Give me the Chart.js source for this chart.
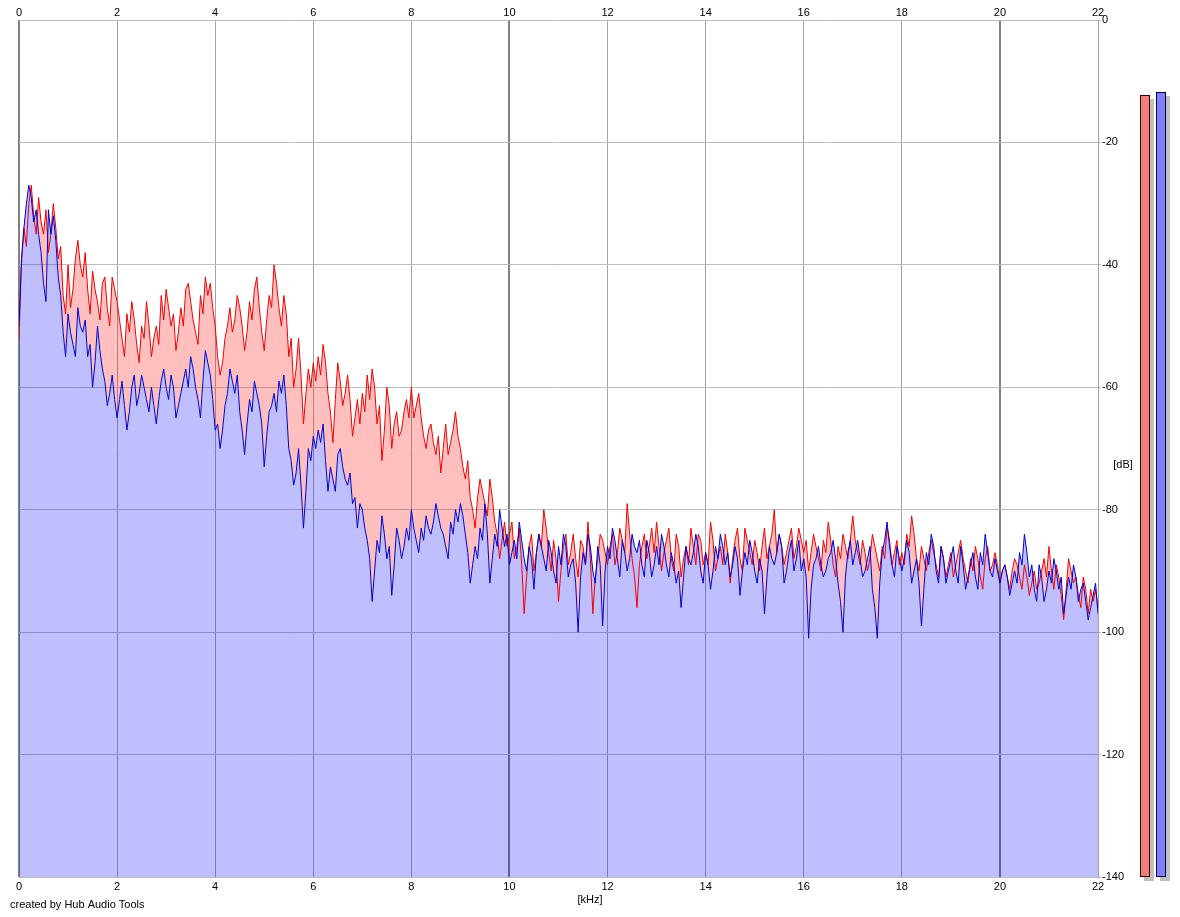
<!DOCTYPE html>
<html>
<head>
<meta charset="utf-8">
<title>Spectrum</title>
<script src="https://cdn.jsdelivr.net/npm/chart.js@4.4.1/dist/chart.umd.min.js"></script>
<style>
  body { margin: 0; background: #fff; }
  canvas { display: block; }
</style>
</head>
<body>
<canvas id="chSpectrum" width="1180" height="917"></canvas>
<script>
/* spectrum of two channels, 0 - 22 kHz */

// bin width of the spectrum, kHz
var binWidthKHz = 0.05;

// red channel, dB (one row per kHz, 20 bins each, last value = 22 kHz)
var redDb = [
  -52,-40,-34,-37,-30,-27,-32,-35,-29,-33,-35,-31,-38,-35,-30,-34,-39,-37,-45,-48,
  -40,-47,-44,-39,-36,-40,-42,-38,-44,-48,-41,-44,-46,-49,-43,-42,-47,-50,-42,-44,
  -46,-49,-52,-55,-48,-51,-46,-49,-53,-56,-50,-52,-46,-50,-55,-52,-50,-53,-45,-49,
  -44,-47,-50,-48,-54,-51,-47,-50,-44,-43,-46,-49,-51,-53,-45,-48,-42,-45,-43,-47,
  -50,-55,-58,-56,-52,-50,-47,-51,-49,-45,-47,-50,-54,-51,-46,-49,-44,-42,-47,-51,
  -54,-49,-45,-47,-40,-43,-47,-50,-45,-48,-55,-52,-60,-57,-52,-58,-66,-61,-57,-60,
  -56,-59,-55,-58,-53,-56,-61,-64,-69,-62,-56,-59,-63,-61,-58,-62,-68,-65,-62,-66,
  -61,-64,-58,-62,-57,-60,-66,-63,-72,-67,-60,-63,-70,-66,-64,-68,-67,-64,-62,-65,
  -60,-65,-63,-61,-65,-68,-70,-67,-66,-69,-71,-68,-74,-70,-66,-71,-69,-67,-64,-68,
  -70,-73,-75,-72,-78,-80,-83,-78,-75,-77,-79,-81,-75,-78,-82,-84,-88,-85,-82,-86,
  -84,-82,-88,-86,-83,-89,-97,-91,-86,-84,-90,-87,-84,-86,-80,-83,-87,-90,-85,-88,
  -95,-90,-86,-84,-89,-87,-84,-88,-91,-85,-86,-89,-82,-88,-97,-91,-88,-84,-85,-87,
  -89,-86,-84,-89,-87,-83,-85,-87,-79,-84,-88,-91,-96,-89,-86,-84,-88,-86,-83,-87,
  -82,-86,-90,-87,-85,-83,-88,-90,-84,-86,-91,-88,-86,-89,-83,-86,-89,-84,-85,-89,
  -87,-89,-82,-85,-90,-88,-86,-89,-84,-87,-92,-88,-85,-83,-88,-90,-83,-85,-87,-89,
  -85,-87,-90,-86,-83,-88,-86,-84,-80,-87,-84,-86,-89,-87,-85,-83,-88,-86,-83,-85,
  -87,-85,-90,-87,-84,-86,-88,-90,-85,-87,-82,-85,-89,-91,-86,-88,-84,-86,-88,-85,
  -81,-85,-87,-89,-85,-87,-90,-88,-84,-86,-88,-90,-86,-88,-83,-85,-89,-87,-85,-89,
  -87,-89,-84,-86,-81,-84,-88,-90,-86,-88,-90,-87,-85,-87,-89,-91,-86,-88,-91,-89,
  -87,-91,-89,-87,-85,-88,-90,-92,-88,-90,-86,-88,-91,-93,-88,-86,-90,-89,-87,-89,
  -92,-90,-89,-91,-93,-90,-88,-89,-91,-93,-89,-91,-94,-92,-90,-93,-92,-90,-88,-91,
  -86,-90,-93,-89,-91,-94,-98,-93,-88,-90,-92,-91,-94,-96,-91,-93,-97,-93,-95,-93,
  -96
];

// blue channel, dB
var blueDb = [
  -50,-39,-34,-30,-27,-29,-33,-31,-35,-38,-43,-46,-31,-35,-32,-36,-42,-45,-51,-55,
  -48,-51,-53,-55,-47,-50,-51,-49,-55,-53,-60,-56,-50,-54,-57,-59,-63,-61,-58,-62,
  -65,-62,-59,-63,-67,-64,-60,-58,-63,-61,-58,-60,-62,-64,-60,-63,-66,-62,-59,-57,
  -60,-62,-58,-60,-65,-63,-61,-59,-57,-60,-55,-57,-60,-62,-65,-59,-54,-56,-58,-62,
  -67,-66,-70,-67,-63,-61,-57,-59,-61,-58,-64,-67,-71,-66,-62,-64,-59,-61,-63,-66,
  -73,-68,-64,-63,-61,-64,-59,-61,-58,-63,-70,-72,-76,-74,-70,-76,-83,-77,-70,-72,
  -68,-70,-67,-69,-66,-72,-77,-73,-75,-77,-71,-70,-73,-75,-76,-74,-79,-78,-83,-79,
  -80,-83,-85,-88,-95,-90,-85,-87,-81,-84,-88,-86,-94,-89,-83,-85,-88,-86,-83,-85,
  -80,-83,-85,-87,-83,-85,-81,-83,-84,-82,-79,-81,-83,-84,-86,-88,-82,-84,-80,-82,
  -79,-81,-84,-87,-92,-89,-86,-88,-83,-85,-79,-84,-92,-88,-84,-86,-80,-83,-86,-84,
  -89,-87,-85,-88,-82,-85,-88,-90,-86,-88,-93,-87,-84,-86,-88,-90,-85,-87,-90,-92,
  -86,-89,-84,-86,-91,-89,-88,-92,-100,-91,-87,-89,-84,-86,-90,-92,-86,-89,-99,-90,
  -86,-88,-83,-85,-88,-91,-85,-87,-90,-88,-84,-86,-87,-85,-89,-91,-85,-87,-91,-89,
  -86,-89,-84,-86,-89,-91,-87,-89,-92,-90,-96,-91,-86,-88,-89,-87,-84,-86,-90,-92,
  -87,-89,-93,-90,-86,-88,-84,-86,-89,-87,-91,-89,-86,-88,-94,-90,-87,-89,-85,-87,
  -90,-92,-88,-90,-97,-91,-86,-88,-89,-87,-84,-86,-92,-90,-87,-85,-90,-88,-85,-90,
  -88,-91,-101,-93,-89,-88,-86,-89,-91,-90,-88,-87,-85,-88,-92,-95,-100,-91,-87,-85,
  -89,-87,-85,-88,-91,-90,-88,-86,-93,-96,-101,-92,-87,-85,-82,-86,-89,-91,-86,-88,
  -90,-88,-85,-87,-92,-90,-88,-92,-99,-93,-87,-89,-84,-86,-90,-92,-86,-88,-92,-90,
  -88,-86,-90,-92,-86,-89,-93,-91,-89,-87,-91,-93,-87,-89,-84,-87,-90,-91,-88,-90,
  -92,-90,-89,-91,-94,-92,-90,-92,-87,-89,-84,-87,-91,-89,-93,-95,-89,-91,-95,-93,
  -90,-92,-88,-90,-93,-91,-97,-94,-91,-93,-89,-91,-95,-93,-92,-95,-98,-96,-94,-92,
  -97
];

// level meters on the right (red, blue), dB
var meterDb = [-12.3, -11.8];
var meterColors = ['#f08080', '#8080ff'];
var meterBorders = ['#400000', '#000040'];

// axis ranges
var kHzMin = 0, kHzMax = 22, kHzStep = 2;
var dbMin = -140, dbMax = 0, dbStep = 20;

var font = { family: 'Liberation Sans, Arial, sans-serif', size: 11 };

function toPoints(values) {
  return values.map(function (v, i) {
    return { x: +(i * binWidthKHz).toFixed(2), y: v };
  });
}

// extra texts and the two level meters
var extrasPlugin = {
  id: 'extras',
  afterDraw: function (chart) {
    var ctx = chart.ctx;
    var y = chart.scales.y;
    ctx.save();
    ctx.font = '11px ' + font.family;
    ctx.fillStyle = '#000';
    ctx.textBaseline = 'middle';
    ctx.textAlign = 'center';
    ctx.fillText('[kHz]', 590, 900);
    ctx.fillText('[dB]', 1123, 465);
    ctx.textAlign = 'left';
    ctx.fillText('created by Hub Audio Tools', 10, 905);

    // meters
    var bottom = y.getPixelForValue(dbMin);
    meterDb.forEach(function (v, i) {
      var x = 1140 + i * 16;
      var top = Math.round(y.getPixelForValue(v));
      var h = Math.round(bottom) - top;
      ctx.fillStyle = '#c0c0c0';
      ctx.fillRect(x + 4, top + 4, 10, h);
      ctx.fillStyle = meterColors[i];
      ctx.fillRect(x, top, 10, h);
      ctx.strokeStyle = meterBorders[i];
      ctx.lineWidth = 1;
      ctx.strokeRect(x + 0.5, top + 0.5, 9, h - 1);
    });
    ctx.restore();
  }
};

var chSpectrum = document.getElementById('chSpectrum');
if (chSpectrum) {
  new Chart(chSpectrum, {
    type: 'line',
    data: {
      datasets: [
        {
          label: 'blue',
          data: toPoints(blueDb),
          borderColor: '#0000cc',
          borderWidth: 1,
          backgroundColor: 'rgba(0,0,255,0.25)',
          fill: 'start',
          pointRadius: 0,
          tension: 0
        },
        {
          label: 'red',
          data: toPoints(redDb),
          borderColor: '#f00000',
          borderWidth: 1,
          fill: { target: 0, above: 'rgba(255,0,0,0.25)', below: 'rgba(0,0,0,0)' },
          pointRadius: 0,
          tension: 0
        }
      ]
    },
    options: {
      responsive: false,
      animation: false,
      layout: { padding: { left: 19, right: 0, top: 0, bottom: 0 } },
      plugins: {
        legend: { display: false },
        tooltip: { enabled: false },
        filler: { drawTime: 'beforeDatasetsDraw' }
      },
      scales: {
        x: {
          type: 'linear',
          position: 'bottom',
          min: kHzMin, max: kHzMax,
          ticks: { stepSize: kHzStep, padding: 3, color: '#000', font: font, maxRotation: 0 },
          grid: {
            drawTicks: false,
            color: function (c) { return c.tick && c.tick.value % 10 === 0 ? '#808080' : '#a4a4a4'; },
            lineWidth: function (c) { return c.tick && c.tick.value % 10 === 0 ? 2 : 1; }
          },
          border: { display: false },
          afterFit: function (s) { s.height = 40; }
        },
        x2: {
          type: 'linear',
          position: 'top',
          min: kHzMin, max: kHzMax,
          ticks: { stepSize: kHzStep, padding: 0, color: '#000', font: font, maxRotation: 0 },
          grid: { display: false, drawTicks: false },
          border: { display: false },
          afterFit: function (s) { s.height = 20; }
        },
        y: {
          position: 'right',
          min: dbMin, max: dbMax,
          ticks: { stepSize: dbStep, padding: 1, color: '#000', font: font },
          grid: { color: '#bcbcbc', tickLength: 3 },
          border: { color: '#a0a0a0' },
          afterFit: function (s) { s.width = 82; }
        }
      }
    },
    plugins: [extrasPlugin]
  });
}
</script>
</body>
</html>
